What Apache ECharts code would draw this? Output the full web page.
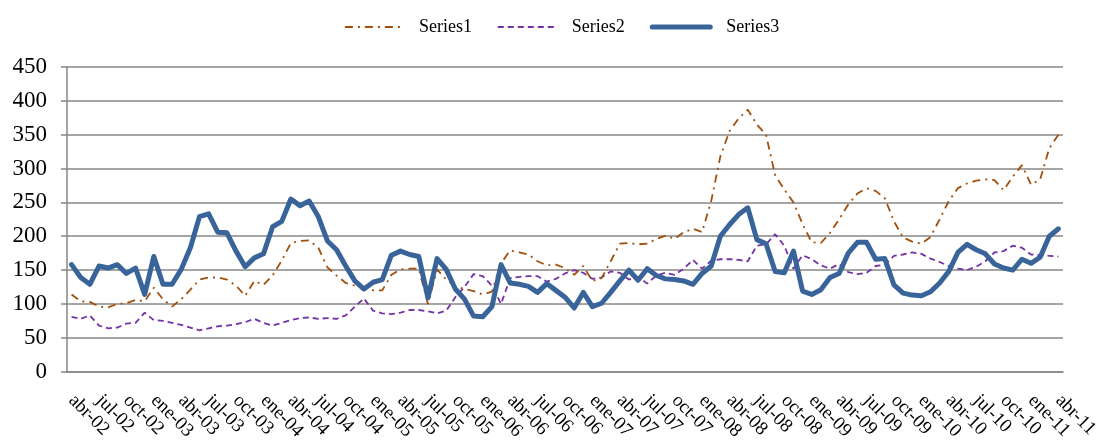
<!DOCTYPE html>
<html>
<head>
<meta charset="utf-8">
<script src="https://cdn.jsdelivr.net/npm/echarts@6/dist/echarts.min.js"></script>
<style>
  html, body { margin: 0; padding: 0; background: #ffffff; }
  #chart { width: 1106px; height: 443px; }
</style>
</head>
<body>
<div id="chart"></div>
<script>
// Monthly series, abr-02 .. abr-11
const monthNames = ['ene', 'feb', 'mar', 'abr', 'may', 'jun', 'jul', 'ago', 'sep', 'oct', 'nov', 'dic'];
const startYear = 2002, startMonth = 3;   // abr-02
const monthCount = 109;                   // through abr-11

const yTicks = [0, 50, 100, 150, 200, 250, 300, 350, 400, 450];

const series1 = [
  114, 104, 103, 96, 95, 100, 101, 106, 104, 124, 107, 96,
  107, 121, 136, 139, 139, 136, 127, 112, 134, 128, 142, 164,
  190, 193, 194, 183, 154, 142, 131, 127, 125, 120, 120, 143,
  151, 152, 152, 100, 151, 136, 126, 122, 119, 114, 118, 160,
  179, 176, 173, 163, 157, 158, 153, 143, 156, 134, 138, 163,
  189, 190, 188, 189, 196, 201, 196, 206, 211, 206, 252, 318,
  355, 374, 387, 365, 350, 290, 269, 250, 218, 191, 190, 205,
  225, 247, 263, 271, 267, 256, 222, 198, 192, 189, 199, 225,
  252, 271, 278, 282, 284, 283, 268, 288, 305, 276, 284, 330,
  350
];

const series2 = [
  81, 78, 83, 68, 64, 65, 71, 72, 87, 76, 75, 72,
  69, 65, 61, 64, 67, 68, 70, 73, 78, 72, 68, 72,
  76, 79, 80, 78, 79, 78, 83, 96, 108, 90, 86, 85,
  87, 91, 91, 89, 86, 90, 110, 125, 144, 141, 127, 100,
  138, 140, 141, 141, 133, 137, 145, 150, 146, 137, 139, 148,
  146, 136, 140, 130, 142, 146, 143, 152, 165, 152, 164, 166,
  166, 165, 163, 186, 188, 203, 186, 152, 172, 166, 157, 152,
  159, 147, 144, 146, 156, 158, 171, 173, 176, 174, 167, 162,
  156, 152, 150, 155, 163, 176, 178, 186, 183, 173, 172, 171,
  170
];

const series3 = [
  158, 139, 129, 156, 153, 158, 145, 153, 114, 170, 129, 129,
  151, 183, 229, 233, 206, 205, 178, 155, 168, 174, 214, 222,
  255, 245, 252, 229, 193, 180, 156, 134, 122, 132, 136, 172,
  178, 173, 170, 109, 167, 151, 122, 107, 82, 81, 96, 158,
  131, 129, 126, 117, 130, 120, 110, 94, 117, 96, 101, 117,
  134, 150, 135, 152, 142, 137, 136, 134, 129, 145, 156, 200,
  217, 232, 242, 195, 189, 148, 146, 178, 119, 114, 121, 139,
  145, 175, 191, 191, 166, 167, 128, 116, 113, 112, 118, 131,
  148, 176, 188, 180, 174, 159, 153, 150, 166, 160, 169, 200,
  211
];

const categories = [];
for (let k = 0; k < monthCount; k++) {
  const m = (startMonth + k) % 12;
  const y = startYear + Math.floor((startMonth + k) / 12);
  categories.push(monthNames[m] + '-' + String(y % 100).padStart(2, '0'));
}

const serif = '"Liberation Serif", "DejaVu Serif", serif';
const axisGrey = '#878787';

const chart = echarts.init(document.getElementById('chart'), null, { renderer: 'canvas' });

chart.setOption({
  animation: false,
  backgroundColor: '#ffffff',
  textStyle: { fontFamily: serif },
  legend: {
    top: 13,
    left: 339,
    itemGap: 25,
    itemWidth: 58,
    itemHeight: 14,
    itemStyle: { opacity: 0 },
    lineStyle: { width: 'inherit', type: 'inherit', cap: 'inherit' },
    textStyle: { fontFamily: serif, fontSize: 18, color: '#000000', padding: [0, 0, 0, 11] },
    data: ['Series1', 'Series2', 'Series3']
  },
  grid: { left: 67, right: 43, top: 67, bottom: 70.3, containLabel: false },
  xAxis: {
    type: 'category',
    data: categories,
    boundaryGap: true,
    axisLine: { lineStyle: { color: axisGrey, width: 1.5 } },
    axisTick: { interval: 2, length: 6, lineStyle: { color: axisGrey, width: 1.5 } },
    axisLabel: {
      interval: 2,
      rotate: -45,
      margin: 26,
      fontFamily: serif,
      fontSize: 19,
      color: '#000000'
    },
    splitLine: { show: false }
  },
  yAxis: {
    type: 'value',
    min: yTicks[0],
    max: yTicks[yTicks.length - 1],
    interval: 50,
    axisLine: { show: true, lineStyle: { color: axisGrey, width: 1.5 } },
    axisTick: { show: true, length: 6, lineStyle: { color: axisGrey, width: 1.5 } },
    axisLabel: { margin: 20, fontFamily: serif, fontSize: 23, color: '#000000' },
    splitLine: { lineStyle: { color: axisGrey, width: 1.6 } }
  },
  series: [
    {
      name: 'Series1',
      type: 'line',
      data: series1,
      symbol: 'none',
      itemStyle: { color: '#a24f0c' },
      lineStyle: { color: '#a24f0c', width: 1.8, type: [8, 5, 2, 5] },
      z: 3
    },
    {
      name: 'Series2',
      type: 'line',
      data: series2,
      symbol: 'none',
      itemStyle: { color: '#7532a6' },
      lineStyle: { color: '#7532a6', width: 1.8, type: [6, 4] },
      z: 2
    },
    {
      name: 'Series3',
      type: 'line',
      data: series3,
      symbol: 'none',
      itemStyle: { color: '#386499' },
      lineStyle: { color: '#386499', width: 5, cap: 'round', join: 'round' },
      z: 4
    }
  ]
});
</script>
</body>
</html>
